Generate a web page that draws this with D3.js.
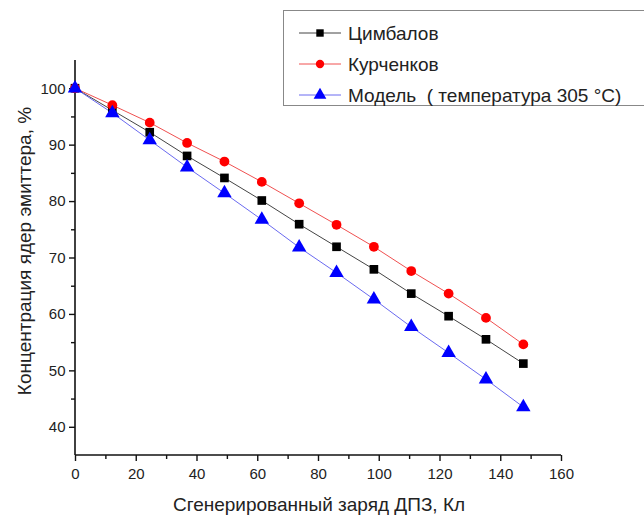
<!DOCTYPE html>
<html>
<head>
<meta charset="utf-8">
<script src="https://cdn.jsdelivr.net/npm/d3@7"></script>
<style>
  body { margin: 0; background: #fff; }
  text { font-family: "Liberation Sans", Arial, sans-serif; fill: #222; }
</style>
</head>
<body>
<svg id="chart"></svg>
<script>
// chart size
const width = 644;
const height = 516;

// data
const charge = [0, 12.3, 24.6, 36.9, 49.2, 61.5, 73.8, 86.1, 98.4, 110.7, 123, 135.3, 147.6];
const tsimbalov = [100, 96.1, 92.2, 88.0, 84.1, 80.1, 75.9, 71.9, 67.9, 63.6, 59.6, 55.5, 51.2];
const kurchenkov = [100, 97.0, 93.9, 90.3, 87.0, 83.4, 79.6, 75.8, 71.9, 67.6, 63.6, 59.3, 54.6];
const model = [100, 95.6, 90.8, 86.0, 81.4, 76.7, 71.8, 67.3, 62.6, 57.7, 53.1, 48.4, 43.5];

const xTicks = [0, 20, 40, 60, 80, 100, 120, 140, 160];
const yTicks = [40, 50, 60, 70, 80, 90, 100];

const series = [
  { name: "Цимбалов", values: tsimbalov, line: "#444", fill: "#000", shape: d3.symbolSquare },
  { name: "Курченков", values: kurchenkov, line: "#f05050", fill: "#f00", shape: d3.symbolCircle },
  { name: "Модель  ( температура 305 °C)", values: model, line: "#6a6af0", fill: "#00f", shape: d3.symbolTriangle }
];

const margin = { left: 75, right: 83, top: 60, bottom: 61 };

const svg = d3.select("#chart")
  .attr("width", width)
  .attr("height", height);

const x = d3.scaleLinear().domain([0, 160]).range([margin.left, width - margin.right]);
const y = d3.scaleLinear().domain([35, 105]).range([height - margin.bottom, margin.top]);

// axes
const xAxis = svg.append("g")
  .attr("transform", `translate(0,${y(35)})`)
  .call(d3.axisBottom(x).tickValues(d3.range(0, 161, 10)).tickSize(5)
    .tickFormat(d => xTicks.includes(d) ? d : ""));
xAxis.selectAll(".tick line").attr("y2", d => xTicks.includes(d) ? 6 : 4);

const yAxis = svg.append("g")
  .attr("transform", `translate(${x(0)},0)`)
  .call(d3.axisLeft(y).tickValues(d3.range(40, 101, 5)).tickSize(5)
    .tickFormat(d => yTicks.includes(d) ? d : ""));
yAxis.selectAll(".tick line").attr("x2", d => yTicks.includes(d) ? -6 : -4);

svg.selectAll(".domain").attr("stroke", "#111").attr("stroke-width", 1.6);
svg.selectAll(".tick line").attr("stroke", "#111").attr("stroke-width", 1.4);
svg.selectAll(".tick text").attr("font-size", 15).attr("fill", "#222")
  .style("font-family", "Liberation Sans, Arial, sans-serif");
xAxis.selectAll(".tick text").attr("dy", "1.05em");
yAxis.selectAll(".tick text").attr("dx", "-0.1em");
xAxis.select(".domain").attr("d", `M${x(0)},0H${x(160)}`);
yAxis.select(".domain").attr("d", `M0,${y(35)}V${y(105)}`);

// axis titles
svg.append("text")
  .attr("x", 319).attr("y", 511)
  .attr("text-anchor", "middle")
  .attr("font-size", 19)
  .text("Сгенерированный заряд ДПЗ, Кл");

svg.append("text")
  .attr("transform", `translate(31,251) rotate(-90)`)
  .attr("text-anchor", "middle")
  .attr("font-size", 19)
  .text("Концентрация ядер эмиттера, %");

// lines and markers
const line = d3.line().x((d, i) => x(charge[i])).y(d => y(d));

series.forEach(s => {
  svg.append("path")
    .attr("d", line(s.values))
    .attr("fill", "none")
    .attr("stroke", s.line)
    .attr("stroke-width", 1);
});

series.forEach(s => {
  const size = s.shape === d3.symbolTriangle ? 90 : 75;
  svg.selectAll(null)
    .data(s.values)
    .enter()
    .append("path")
    .attr("transform", (d, i) => `translate(${x(charge[i])},${y(d)})`)
    .attr("d", d3.symbol().type(s.shape).size(size))
    .attr("fill", s.fill);
});

// legend
const legend = svg.append("g");
legend.append("rect")
  .attr("x", 283.5).attr("y", 10.5)
  .attr("width", 370).attr("height", 95)
  .attr("fill", "#fff")
  .attr("stroke", "#888");

series.forEach((s, i) => {
  const ly = 33 + i * 31;
  legend.append("line")
    .attr("x1", 299).attr("x2", 341)
    .attr("y1", ly).attr("y2", ly)
    .attr("stroke", s.line);
  legend.append("path")
    .attr("transform", `translate(320,${ly})`)
    .attr("d", d3.symbol().type(s.shape).size(s.shape === d3.symbolTriangle ? 70 : 55))
    .attr("fill", s.fill);
  legend.append("text")
    .attr("x", 348).attr("y", ly)
    .attr("dy", "0.36em")
    .attr("font-size", 19)
    .style("white-space", "pre")
    .text(s.name);
});
</script>
</body>
</html>
